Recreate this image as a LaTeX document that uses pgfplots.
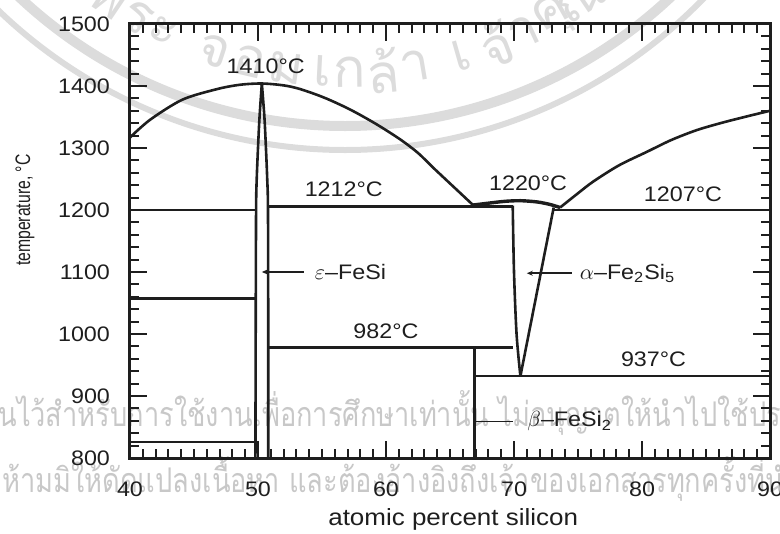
\documentclass[border=0pt]{standalone}
\usepackage{fontspec}
\setmainfont{Liberation Sans}[FakeStretch=1.11]
\newfontfamily\ylabfont{Liberation Sans}[FakeStretch=0.75]
\newfontfamily\thaifont{Loma}[Script=Thai]
\newfontfamily\thainarrow{Loma}[Script=Thai, FakeStretch=0.8]
\usepackage{pgfplots}
\pgfplotsset{compat=1.18}
\usetikzlibrary{arrows.meta}

\definecolor{ink}{HTML}{1E1E1E}
\definecolor{wm}{HTML}{DCDCDC}
\definecolor{wmtext}{HTML}{C8C8C8}

\begin{document}
\begin{tikzpicture}
% watermark (seal + notice), behind the chart
\begin{scope}[color=wm]
  \draw[line width=5pt] (107.5pt,404pt) ++(-140:238pt) arc[start angle=-140, end angle=-40, radius=238pt];
  \draw[line width=3pt] (107.5pt,404pt) ++(-140:250pt) arc[start angle=-140, end angle=-40, radius=250pt];
  \foreach \a/\c in {-124/พ, -119.5/ร, -115.5/ะ, -108/จ, -103/อ, -98/ม, -93/เ, -89.3/ก, -84.8/ล้, -80.4/า, -74/เ, -69/จ้, -65/า, -60.5/คุ, -56/ณ}
    \path (107.5pt,404pt) ++(\a:211pt) node[rotate=\a+90, font=\thaifont\fontsize{27}{30}\selectfont] {\c};
\end{scope}
\node[anchor=base west, text=wmtext, font=\thainarrow\fontsize{17}{20}\selectfont, inner sep=0pt]
  at (-66pt,15.5pt) {นไว้สำหรับการใช้งานเพื่อการศึกษาเท่านั้น ไม่อนุญาตให้นำไปใช้ประโยชน์};
\node[anchor=base west, text=wmtext, font=\thainarrow\fontsize{17}{20}\selectfont, inner sep=0pt]
  at (-64pt,-17.5pt) {ห้ามมิให้ดัดแปลงเนื้อหา และต้องอ้างอิงถึงเจ้าของเอกสารทุกครั้งที่นำไปใช้};

\begin{axis}[
    scale only axis,
    width=320pt, height=217pt,
    xmin=40, xmax=90, ymin=800, ymax=1500,
    xtick={40,50,...,90}, ytick={800,900,...,1500},
    minor x tick num=9, minor y tick num=4,
    tick align=inside,
    major tick length=8.5pt, minor tick length=4.5pt,
    every tick/.style={ink, line width=1pt},
    axis line style={ink, line width=1.5pt},
    tick label style={font=\fontsize{10.5}{12}\selectfont, text=ink},
    xticklabel style={yshift=-8.5pt},
    yticklabel style={xshift=-6.5pt},
    /pgf/number format/assume math mode=true,
    /pgf/number format/1000 sep={},
    xlabel={atomic percent silicon},
    ylabel={\ylabfont temperature, °C},
    xlabel style={at={(axis description cs:0.505,-0.1406)}, anchor=center,
                  font=\fontsize{11.7}{13}\selectfont, text=ink},
    ylabel style={at={(axis description cs:-0.164,0.571)}, anchor=center,
                  font=\fontsize{10.5}{12}\selectfont, text=ink},
    ph/.style={ink, solid, line width=1.3pt, mark=none},
    clip=false,
]
% liquidus, Fe-rich side and up to the FeSi/alpha eutectic
\addplot[ph, smooth] coordinates {
  (40,1317) (41.6,1346) (44.1,1378) (46.8,1395) (48.6,1402) (50.3,1404)
  (52,1401) (53.3,1395) (55.2,1381) (57.2,1362) (59.2,1339) (61.1,1314)
  (62.5,1292) (63.7,1268) (65.3,1237) (66.8,1208)
};
% liquidus, Si-rich side
\addplot[ph, smooth] coordinates {
  (73.6,1204) (75,1227) (76.2,1246) (78.2,1272) (80.4,1294) (82.3,1313)
  (84.3,1329) (86.3,1341) (88.2,1351) (90,1360)
};
% epsilon-FeSi boundaries
\addplot[ph, smooth] coordinates {(50.3,1404) (50.12,1350) (50.0,1300) (49.9,1250) (49.85,1200) (49.82,1000) (49.8,800)};
\addplot[ph, smooth] coordinates {(50.3,1404) (50.5,1350) (50.62,1300) (50.72,1250) (50.78,1200) (50.8,1000) (50.8,800)};
% alpha-Fe2Si5 region and its dome
\addplot[ph, smooth] coordinates {(69.9,1207) (70.0,1100) (70.2,1000) (70.5,932)};
\addplot[ph] coordinates {(73.1,1204) (70.5,932)};
\addplot[ph, smooth, line width=1.7pt] coordinates {(66.8,1208) (68,1211) (69.3,1214) (70.5,1215) (71.8,1213) (72.8,1209) (73.6,1204)};
% isotherms
\addplot[ph] coordinates {(40,1200) (49.8,1200)};
\addplot[ph] coordinates {(40,1057) (49.8,1057)};
\addplot[ph] coordinates {(40,826) (49.8,826)};
\addplot[ph] coordinates {(50.8,1206) (69.9,1206)};
\addplot[ph] coordinates {(73.1,1200) (90,1200)};
\addplot[ph] coordinates {(50.8,978) (69.9,978)};
\addplot[ph] coordinates {(66.9,932) (90,932)};
\addplot[ph] coordinates {(66.9,800) (66.9,978)};

% labels
\begin{scope}[font=\fontsize{10.5}{12}\selectfont, text=ink]
\node at (axis cs:50.6,1432) {1410°C};
\node at (axis cs:56.7,1233) {1212°C};
\node at (axis cs:71.1,1243) {1220°C};
\node at (axis cs:83.2,1226) {1207°C};
\node at (axis cs:60.0,1004) {982°C};
\node at (axis cs:80.9,960) {937°C};
\draw[ink, line width=0.9pt, {Stealth[length=3pt,width=2.5pt]}-] (axis cs:50.3,1100) -- (axis cs:53.6,1100);
\node[anchor=west] at (axis cs:53.9,1100) {$\varepsilon$–FeSi};
\draw[ink, line width=0.9pt, {Stealth[length=3pt,width=2.5pt]}-] (axis cs:71.0,1098) -- (axis cs:74.5,1098);
\node[anchor=west] at (axis cs:74.6,1098) {$\alpha$–Fe\textsubscript{2}Si\textsubscript{5}};
\draw[ink, line width=0.9pt] (axis cs:66.9,859) -- (axis cs:69.9,859);
\node[anchor=west] at (axis cs:70.5,859) {$\beta$–FeSi\textsubscript{2}};
\end{scope}
\end{axis}

\pgfresetboundingbox
\path[use as bounding box] (-65pt,-38pt) rectangle (325pt,229pt);
\end{tikzpicture}
\end{document}
